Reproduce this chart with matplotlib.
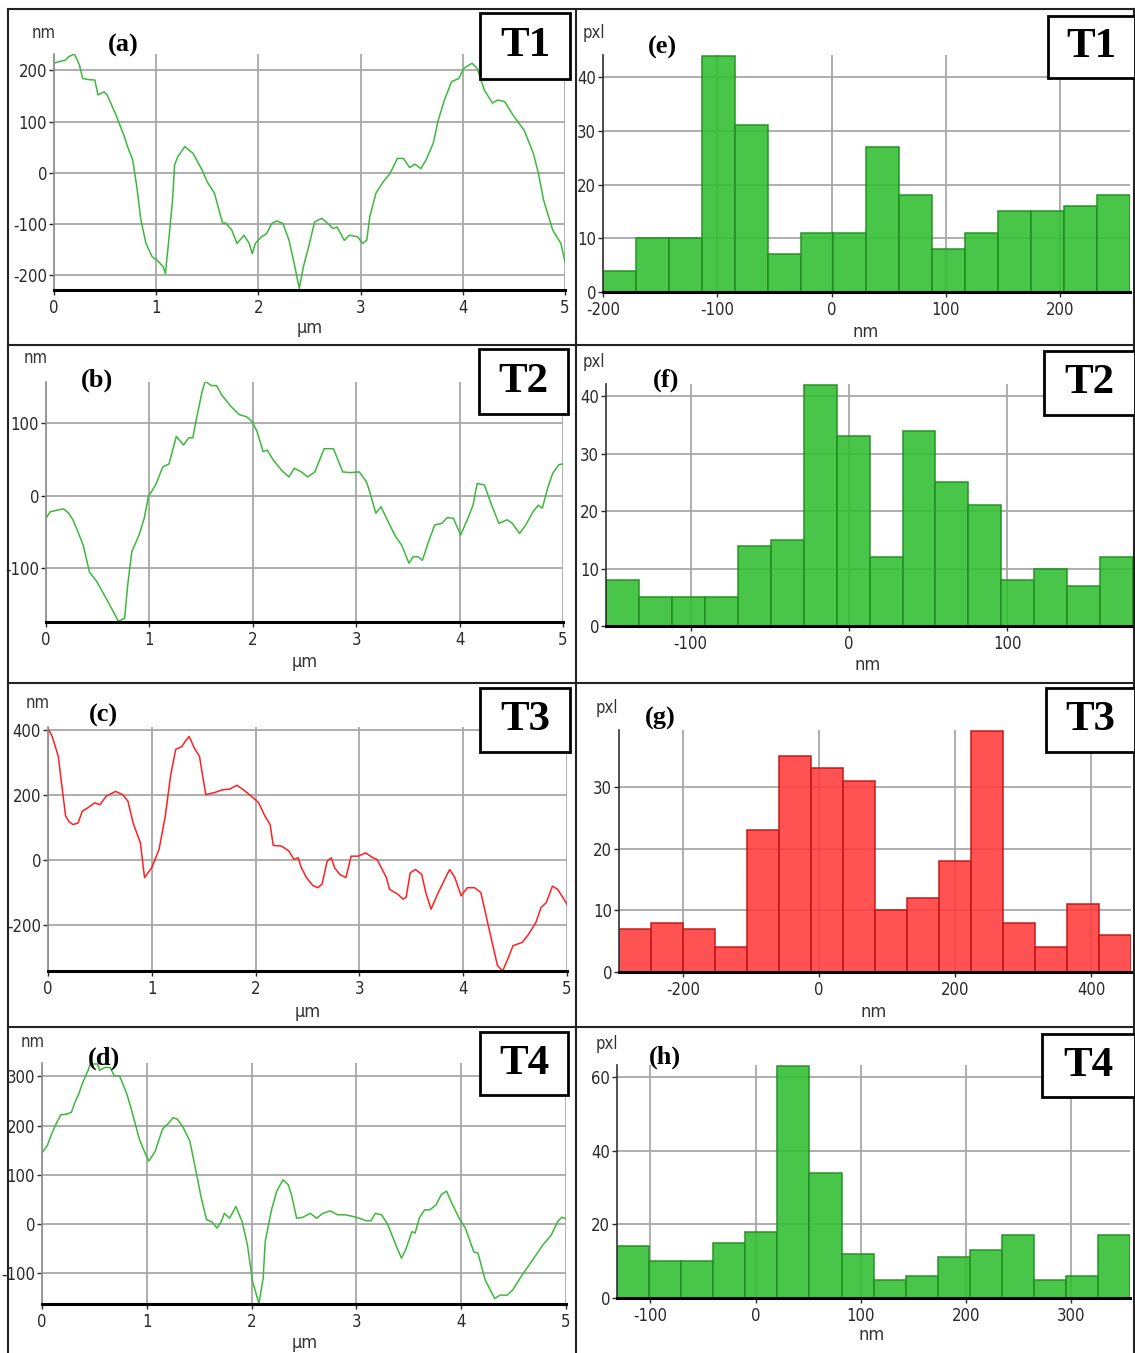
import matplotlib.pyplot as plt
import numpy as np
from matplotlib import font_manager as fm
from matplotlib.lines import Line2D
from matplotlib.patches import Rectangle

plt.rcParams['font.family'] = ['Liberation Sans', 'DejaVu Sans']
plt.rcParams['axes.unicode_minus'] = False

# a narrow sans for the tick labels, like the instrument software uses
narrow = None
for f in fm.fontManager.ttflist:
    low = f.fname.lower()
    if ('narrow' in low or 'condensed' in low) and 'bold' not in low and 'oblique' not in low \
            and 'italic' not in low and 'mono' not in low and 'serif' not in low:
        narrow = fm.FontProperties(fname=f.fname, size=12)
        break
if narrow is None:
    narrow = fm.FontProperties(family='Liberation Sans', size=11)

# ---- line profiles (x in um, height in nm) ----
a_x = [0, 0.05, 0.11, 0.145, 0.2, 0.25, 0.28, 0.34, 0.4, 0.43, 0.49, 0.52, 0.6, 0.69, 0.72, 0.77,
       0.81, 0.85, 0.9, 0.96, 1.01, 1.07, 1.09, 1.12, 1.16, 1.18, 1.21, 1.28, 1.36, 1.45, 1.5, 1.57,
       1.65, 1.68, 1.74, 1.79, 1.86, 1.91, 1.94, 1.97, 2.03, 2.08, 2.13, 2.18, 2.24, 2.3, 2.35, 2.4,
       2.44, 2.5, 2.55, 2.62, 2.68, 2.73, 2.77, 2.84, 2.89, 2.97, 3.02, 3.06, 3.09, 3.15, 3.22, 3.29,
       3.36, 3.42, 3.48, 3.53, 3.59, 3.64, 3.71, 3.76, 3.82, 3.89, 3.96, 4.01, 4.09, 4.14, 4.21, 4.29,
       4.34, 4.41, 4.49, 4.6, 4.69, 4.74, 4.79, 4.88, 4.96, 5.0]
a_y = [214, 217, 220, 227, 232, 210, 184, 182, 181, 152, 158, 152, 116, 70, 51, 25,
       -27, -92, -138, -164, -171, -184, -197, -138, -53, 15, 31, 51, 38, 5, -18, -40,
       -99, -98, -112, -138, -122, -138, -158, -138, -125, -119, -99, -94, -99, -132, -177, -226,
       -184, -138, -96, -89, -99, -109, -106, -132, -122, -125, -138, -132, -86, -40, -18, -1,
       28, 28, 10, 17, 8, 25, 57, 103, 142, 178, 184, 204, 214, 204, 162, 136,
       142, 139, 113, 83, 38, -1, -53, -112, -138, -174]

b_x = [0, 0.04, 0.1, 0.17, 0.22, 0.26, 0.31, 0.36, 0.42, 0.49, 0.6, 0.7, 0.76, 0.79, 0.83, 0.9,
       0.95, 0.99, 1.06, 1.13, 1.19, 1.26, 1.33, 1.38, 1.42, 1.45, 1.51, 1.54, 1.6, 1.65, 1.7, 1.79,
       1.87, 1.94, 1.99, 2.04, 2.1, 2.14, 2.2, 2.28, 2.35, 2.4, 2.47, 2.53, 2.6, 2.69, 2.78, 2.87,
       2.94, 3.03, 3.1, 3.13, 3.19, 3.24, 3.31, 3.38, 3.44, 3.51, 3.55, 3.6, 3.64, 3.7, 3.76, 3.83,
       3.88, 3.94, 4.01, 4.08, 4.13, 4.17, 4.24, 4.31, 4.38, 4.46, 4.51, 4.58, 4.64, 4.71, 4.76, 4.8,
       4.85, 4.9, 4.96, 5.0]
b_y = [-31, -22, -20, -18, -24, -33, -50, -68, -105, -118, -146, -173, -169, -123, -77, -54,
       -31, -1, 15, 40, 44, 82, 70, 80, 80, 103, 144, 158, 152, 152, 139, 123,
       112, 109, 103, 89, 61, 63, 49, 35, 26, 38, 33, 26, 33, 65, 65, 33,
       32, 33, 19, 6, -24, -15, -36, -56, -68, -93, -84, -84, -89, -63, -40, -38,
       -30, -31, -54, -31, -13, 17, 15, -13, -38, -33, -38, -52, -40, -22, -13, -17,
       10, 31, 43, 44]

c_x = [0, 0.04, 0.1, 0.13, 0.17, 0.2, 0.24, 0.29, 0.33, 0.38, 0.45, 0.5, 0.56, 0.65, 0.72, 0.77,
       0.82, 0.89, 0.93, 1.0, 1.07, 1.13, 1.18, 1.23, 1.29, 1.32, 1.36, 1.41, 1.46, 1.48, 1.52, 1.61,
       1.68, 1.75, 1.82, 1.89, 1.96, 2.03, 2.09, 2.14, 2.17, 2.25, 2.32, 2.37, 2.41, 2.44, 2.49, 2.55,
       2.6, 2.64, 2.69, 2.73, 2.76, 2.81, 2.87, 2.92, 2.99, 3.06, 3.13, 3.17, 3.22, 3.26, 3.29, 3.37,
       3.42, 3.45, 3.49, 3.54, 3.6, 3.64, 3.69, 3.76, 3.83, 3.87, 3.92, 3.98, 4.04, 4.11, 4.17, 4.22,
       4.27, 4.33, 4.38, 4.43, 4.48, 4.57, 4.63, 4.7, 4.75, 4.8, 4.86, 4.91, 4.97, 5.0]
c_y = [406, 381, 319, 238, 136, 120, 110, 115, 151, 161, 177, 171, 197, 212, 202, 182,
       115, 54, -53, -22, 34, 136, 258, 341, 350, 365, 381, 345, 319, 279, 202, 209,
       217, 219, 231, 215, 197, 177, 136, 110, 46, 44, 29, 3, 8, -22, -53, -77,
       -84, -73, -2, 8, -22, -43, -53, 13, 13, 23, 8, 3, -28, -53, -89, -104,
       -119, -114, -38, -28, -43, -99, -150, -99, -53, -28, -53, -109, -84, -84, -99, -169,
       -240, -323, -340, -303, -262, -252, -227, -191, -145, -130, -79, -89, -119, -135]

d_x = [0, 0.05, 0.09, 0.14, 0.18, 0.23, 0.28, 0.32, 0.35, 0.39, 0.44, 0.46, 0.53, 0.55, 0.6, 0.65,
       0.69, 0.74, 0.81, 0.86, 0.93, 0.99, 1.02, 1.08, 1.15, 1.2, 1.25, 1.29, 1.34, 1.41, 1.45, 1.52,
       1.57, 1.62, 1.67, 1.71, 1.74, 1.79, 1.85, 1.91, 1.96, 2.01, 2.07, 2.11, 2.13, 2.19, 2.24, 2.3,
       2.35, 2.38, 2.43, 2.49, 2.56, 2.62, 2.68, 2.75, 2.82, 2.89, 2.96, 3.03, 3.09, 3.14, 3.18, 3.24,
       3.3, 3.37, 3.43, 3.47, 3.53, 3.56, 3.6, 3.65, 3.7, 3.76, 3.81, 3.86, 3.91, 3.98, 4.04, 4.12,
       4.16, 4.23, 4.32, 4.37, 4.44, 4.49, 4.57, 4.67, 4.78, 4.86, 4.92, 4.96, 5.0]
d_y = [145, 159, 182, 206, 222, 223, 227, 250, 264, 288, 312, 325, 325, 312, 318, 318,
       301, 301, 264, 227, 172, 141, 128, 148, 193, 203, 216, 213, 199, 169, 128, 53,
       9, 5, -8, 5, 22, 12, 36, 5, -42, -117, -161, -110, -35, 29, 67, 90,
       80, 60, 12, 14, 22, 12, 22, 27, 19, 19, 16, 12, 7, 7, 22, 19,
       -1, -39, -69, -52, -15, -18, 12, 29, 29, 39, 60, 67, 43, 12, -8, -56,
       -59, -114, -151, -144, -144, -134, -107, -76, -42, -22, 5, 14, 11]

# ---- height histograms: first bin edge, bin width (nm) and pixel counts ----
e_start, e_width = -200, 28.8
e_counts = [4, 10, 10, 44, 31, 7, 11, 11, 27, 18, 8, 11, 15, 15, 16, 18]
f_start, f_width = -153.4, 20.8
f_counts = [8, 5, 5, 5, 14, 15, 42, 33, 12, 34, 25, 21, 8, 10, 7, 12]
g_start, g_width = -294, 47.05
g_counts = [7, 8, 7, 4, 23, 35, 33, 31, 10, 12, 18, 39, 8, 4, 11, 6]
h_start, h_width = -131.7, 30.5
h_counts = [14, 10, 10, 15, 18, 63, 34, 12, 5, 6, 11, 13, 17, 5, 6, 17]

W, H = 1135, 1353
fig = plt.figure(figsize=(W / 100, H / 100), dpi=100)


def rect(l, t, r, b):
    return [l / W, 1 - b / H, (r - l) / W, (b - t) / H]


def ftext(x, y, s, **kw):
    fig.text(x / W, 1 - y / H, s, ha='center', va='center', **kw)


def tag_box(l, t, r, b, s):
    fig.add_artist(Rectangle((l / W, 1 - b / H), (r - l) / W, (b - t) / H,
                             transform=fig.transFigure, facecolor='white',
                             edgecolor='black', lw=2, zorder=10))
    fig.text((l + r) / 2 / W, 1 - (t + b) / 2 / H, s, ha='center', va='center',
             family=['Liberation Serif', 'DejaVu Serif'], weight='bold', fontsize=31, zorder=11)


def style(ax, left_col):
    for s in ['top', 'right']:
        ax.spines[s].set_visible(False)
    ax.spines['bottom'].set_linewidth(2.2)
    ax.spines['bottom'].set_color('black')
    ax.spines['left'].set_color(left_col)
    ax.spines['left'].set_linewidth(1.2)
    ax.grid(True, color='#a8a8a8', lw=1.3)
    ax.set_axisbelow(True)
    ax.tick_params(length=3.5, width=1, colors='#2a2a2a', pad=1.5)
    ax.tick_params(axis='x', pad=3)
    for t in ax.get_xticklabels() + ax.get_yticklabels():
        t.set_fontproperties(narrow)


def unit_text(xy, s, size):
    fp = narrow.copy()
    fp.set_size(size)
    ftext(*xy, s, fontproperties=fp, color='#333333')


def profile(pos, x, y, ylim, yticks, col, lbl_xy, unit_xy, letter_xy, letter, tag, tname):
    ax = fig.add_axes(rect(*pos))
    ax.plot(x, y, color=col, lw=1.1)
    ax.set_xlim(0, 5)
    ax.set_ylim(*ylim)
    ax.set_xticks([0, 1, 2, 3, 4, 5])
    ax.set_yticks(yticks)
    style(ax, '#8c8c8c')
    unit_text(lbl_xy, 'nm', 12)
    unit_text(unit_xy, 'μm', 13)
    ftext(*letter_xy, letter, family=['Liberation Serif', 'DejaVu Serif'], weight='bold', fontsize=19)
    tag_box(*tag, tname)
    return ax


def histo(pos, start, width, counts, xlim, ylim, xticks, yticks, fc, ec,
          lbl_xy, unit_xy, letter_xy, letter, tag, tname):
    ax = fig.add_axes(rect(*pos))
    edges = start + width * np.arange(len(counts))
    ax.bar(edges, counts, width=width, align='edge', color=fc, edgecolor=ec, lw=1.2, alpha=0.88)
    ax.set_xlim(*xlim)
    ax.set_ylim(*ylim)
    ax.set_xticks(xticks)
    ax.set_yticks(yticks)
    style(ax, '#333333')
    unit_text(lbl_xy, 'pxl', 12)
    unit_text(unit_xy, 'nm', 13)
    ftext(*letter_xy, letter, family=['Liberation Serif', 'DejaVu Serif'], weight='bold', fontsize=19)
    tag_box(*tag, tname)
    return ax


green, dgreen = '#30bf30', '#1f8f1f'
red, dred = '#ff3a3a', '#c41414'

profile((54, 54, 565, 290), a_x, a_y, (-229, 232), [-200, -100, 0, 100, 200], '#3cb93c',
        (44, 33), (310, 328), (123, 45), '(a)', (480, 13, 570, 79), 'T1')
profile((46, 382, 563, 622), b_x, b_y, (-174, 157), [-100, 0, 100], '#3cb93c',
        (36, 358), (305, 662), (97, 380), '(b)', (479, 349, 568, 414), 'T2')
profile((48, 727, 567, 971), c_x, c_y, (-340, 410), [-200, 0, 200, 400], '#ff2020',
        (38, 703), (308, 1012), (103, 715), '(c)', (480, 688, 570, 752), 'T3')
profile((42, 1063, 566, 1304), d_x, d_y, (-162, 327), [-100, 0, 100, 200, 300], '#3cb93c',
        (33, 1042), (305, 1343), (104, 1058), '(d)', (480, 1032, 568, 1095), 'T4')

histo((603, 55, 1130, 292), e_start, e_width, e_counts, (-200, 261), (0, 44.1),
      [-200, -100, 0, 100, 200], [0, 10, 20, 30, 40], green, dgreen,
      (594, 33), (866, 332), (662, 47), '(e)', (1048, 16, 1135, 78), 'T1')
histo((606, 384, 1133, 626), f_start, f_width, f_counts, (-153.4, 179.3), (0, 42.1),
      [-100, 0, 100], [0, 10, 20, 30, 40], green, dgreen,
      (594, 362), (868, 665), (666, 380), '(f)', (1044, 351, 1135, 415), 'T2')
histo((619, 730, 1131, 972), g_start, g_width, g_counts, (-294, 458.7), (0, 39.2),
      [-200, 0, 200, 400], [0, 10, 20, 30], red, dred,
      (607, 708), (874, 1012), (660, 718), '(g)', (1046, 688, 1135, 752), 'T3')
histo((617, 1065, 1130, 1298), h_start, h_width, h_counts, (-131.7, 356), (0, 63.2),
      [-100, 0, 100, 200, 300], [0, 20, 40, 60], green, dgreen,
      (607, 1044), (872, 1335), (665, 1057), '(h)', (1042, 1034, 1135, 1097), 'T4')

# panel frame lines
for x0, y0, x1, y1 in [(8, 9, 1134, 9), (8, 9, 8, 1353), (1134, 9, 1134, 1353), (576, 9, 576, 1353),
                       (8, 345, 1134, 345), (8, 683, 1134, 683), (8, 1027, 1134, 1027)]:
    fig.add_artist(Line2D([x0 / W, x1 / W], [1 - y0 / H, 1 - y1 / H], transform=fig.transFigure,
                          color='#222222', lw=1.5))

fig.savefig('out.png', dpi=100)
